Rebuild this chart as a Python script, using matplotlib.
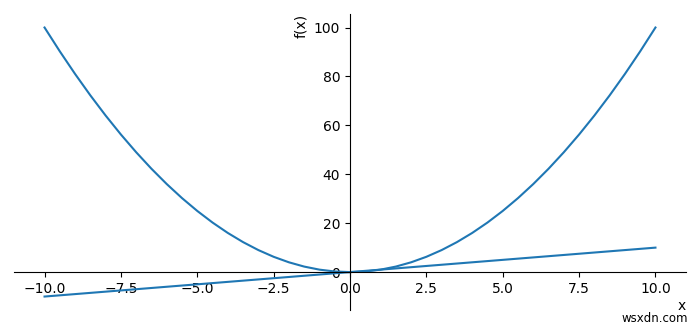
import numpy as np
from matplotlib import pyplot as plt

# Sample points
x_vals = [-10.0, -9.5, -9.0, -8.5, -8.0, -7.5, -7.0, -6.5, -6.0, -5.5, -5.0,
          -4.5, -4.0, -3.5, -3.0, -2.5, -2.0, -1.5, -1.0, -0.5, 0.0,
          0.5, 1.0, 1.5, 2.0, 2.5, 3.0, 3.5, 4.0, 4.5, 5.0,
          5.5, 6.0, 6.5, 7.0, 7.5, 8.0, 8.5, 9.0, 9.5, 10.0]
parabola = [100.0, 90.25, 81.0, 72.25, 64.0, 56.25, 49.0, 42.25, 36.0, 30.25, 25.0,
            20.25, 16.0, 12.25, 9.0, 6.25, 4.0, 2.25, 1.0, 0.25, 0.0,
            0.25, 1.0, 2.25, 4.0, 6.25, 9.0, 12.25, 16.0, 20.25, 25.0,
            30.25, 36.0, 42.25, 49.0, 56.25, 64.0, 72.25, 81.0, 90.25, 100.0]
line_x = [-10.0, 10.0]
line_y = [-10.0, 10.0]

fig = plt.figure(figsize=(7.0, 3.27), dpi=100)
ax = fig.add_axes([0.02, 0.052, 0.96, 0.905])

ax.plot(x_vals, parabola, color="#1f77b4")
ax.plot(line_x, line_y, color="#1f77b4")

ax.set_xlim(-11, 11)
ax.set_ylim(-15.5, 105.5)

# axes through the origin, sympy style
ax.spines["left"].set_position("zero")
ax.spines["bottom"].set_position("zero")
ax.spines["right"].set_visible(False)
ax.spines["top"].set_visible(False)
ax.xaxis.set_ticks_position("bottom")
ax.yaxis.set_ticks_position("left")

ax.set_xlabel("x", loc="right", labelpad=2)
ax.set_ylabel("f(x)", loc="top")

fig.text(0.983, 0.015, "wsxdn.com", ha="right", va="baseline", fontsize=8.5)

fig.savefig("out.png", dpi=100)
